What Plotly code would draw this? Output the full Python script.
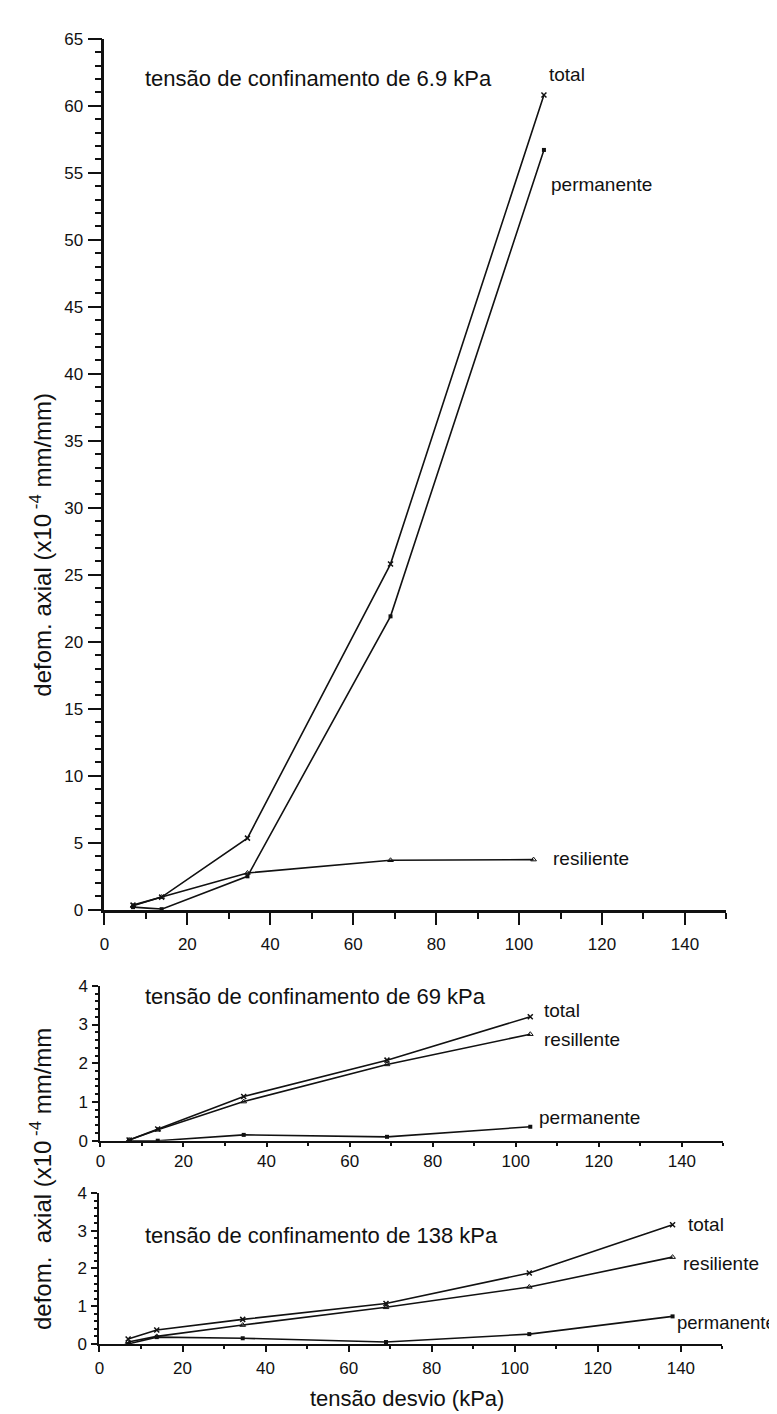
import plotly.graph_objects as go

W, H = 777, 1414

# ---------------- data ----------------
# confining stress 6.9 kPa
x_top_total = [6.9, 13.8, 34.5, 69, 106]
y_top_total = [0.35, 0.95, 5.35, 25.8, 60.8]
x_top_perm = [6.9, 13.8, 34.5, 69, 106]
y_top_perm = [0.2, 0.05, 2.5, 21.9, 56.7]
x_top_res = [6.9, 13.8, 34.5, 69, 103.5]
y_top_res = [0.3, 0.95, 2.75, 3.7, 3.75]

# confining stress 69 kPa
x_mid = [6.9, 13.8, 34.5, 69, 103.5]
y_mid_total = [0.02, 0.3, 1.14, 2.08, 3.2]
y_mid_res = [0.02, 0.28, 1.01, 1.97, 2.75]
y_mid_perm = [0.0, 0.0, 0.15, 0.1, 0.36]

# confining stress 138 kPa
x_bot = [6.9, 13.8, 34.5, 69, 103.5, 138]
y_bot_total = [0.13, 0.37, 0.65, 1.07, 1.88, 3.16]
y_bot_res = [0.05, 0.2, 0.5, 0.97, 1.51, 2.3]
y_bot_perm = [0.0, 0.18, 0.15, 0.05, 0.26, 0.73]

x_ticks = [0, 20, 40, 60, 80, 100, 120, 140]
FONT = "Liberation Sans, Arial, sans-serif"
INK = "#111111"


def px(x):
    return x / W


def py(y):
    return 1 - y / H


fig = go.Figure()

line = dict(color=INK, width=1.6)
m_total = dict(symbol="x-thin-open", size=5, color=INK, line=dict(color=INK, width=1.5))
m_perm = dict(symbol="square", size=4, color=INK)
m_res = dict(symbol="triangle-up-open", size=5, color=INK, line=dict(color=INK, width=1))

series = [
    ("x", "y", x_top_total, y_top_total, m_total),
    ("x", "y", x_top_perm, y_top_perm, m_perm),
    ("x", "y", x_top_res, y_top_res, m_res),
    ("x2", "y2", x_mid, y_mid_total, m_total),
    ("x2", "y2", x_mid, y_mid_res, m_res),
    ("x2", "y2", x_mid, y_mid_perm, m_perm),
    ("x3", "y3", x_bot, y_bot_total, m_total),
    ("x3", "y3", x_bot, y_bot_res, m_res),
    ("x3", "y3", x_bot, y_bot_perm, m_perm),
]
for xa, ya, xs, ys, mk in series:
    fig.add_trace(go.Scatter(x=xs, y=ys, xaxis=xa, yaxis=ya, mode="lines+markers",
                             line=line, marker=mk, showlegend=False, cliponaxis=False))

TICKFONT = dict(family=FONT, size=17, color=INK)


def xaxis(dom, anchor, ticklen, standoff, lw):
    return dict(domain=dom, anchor=anchor, range=[0, 150], tickvals=x_ticks,
                ticks="outside", ticklen=ticklen, tickwidth=2, tickcolor=INK,
                showline=True, linecolor=INK, linewidth=lw, showgrid=False, zeroline=False,
                tickfont=TICKFONT, ticklabelstandoff=standoff,
                minor=dict(dtick=10, ticks="outside", ticklen=max(3, ticklen // 2),
                           tickwidth=2, tickcolor=INK, showgrid=False))


def yaxis(dom, anchor, rng, dtick, minor_dt, ticklen, lw):
    return dict(domain=dom, anchor=anchor, range=rng, dtick=dtick,
                ticks="outside", ticklen=ticklen, tickwidth=2, tickcolor=INK,
                showline=True, linecolor=INK, linewidth=lw, showgrid=False, zeroline=False,
                tickfont=TICKFONT, ticklabelstandoff=1,
                minor=dict(dtick=minor_dt, ticks="outside", ticklen=max(2, ticklen // 2),
                           tickwidth=2, tickcolor=INK, showgrid=False))


fig.update_layout(
    width=W, height=H,
    margin=dict(l=0, r=0, t=0, b=0),
    paper_bgcolor="white", plot_bgcolor="white",
    xaxis=xaxis([px(92), px(718)], "y", 12, 5, 2.5),
    yaxis=yaxis([py(905), py(22)], "x", [0, 65], 5, 1, 14, 2.5),
    xaxis2=xaxis([px(88), px(715)], "y2", 4, 0, 2),
    yaxis2=yaxis([py(1139), py(982)], "x2", [0, 4], 1, 0.2, 6, 2),
    xaxis3=xaxis([px(87), px(714)], "y3", 6, 2, 2),
    yaxis3=yaxis([py(1345), py(1192)], "x3", [0, 4], 1, 0.2, 6, 2),
)

annots = [
    # (text, x, y, size, xanchor, angle)
    ("tensão de confinamento de 6.9 kPa", 132, 62, 22, "left", 0),
    ("total", 538, 58, 19, "left", 0),
    ("permanente", 540, 170, 19, "left", 0),
    ("resiliente", 542, 853, 19, "left", 0),
    ("tensão de confinamento de 69 kPa", 132, 993, 22, "left", 0),
    ("total", 533, 1007, 19, "left", 0),
    ("resillente", 533, 1036, 19, "left", 0),
    ("permanente", 528, 1115, 19, "left", 0),
    ("tensão de confinamento de 138 kPa", 132, 1235, 22, "left", 0),
    ("total", 678, 1224, 19, "left", 0),
    ("resiliente", 673, 1263, 19, "left", 0),
    ("permanente", 667, 1323, 18.5, "left", 0),
    ("tensão desvio (kPa)", 397, 1400, 22, "center", 0),
    ("defom. axial (x10<sup> -4</sup> mm/mm)", 28, 535, 24, "center", -90),
    ("defom.  axial (x10<sup> -4</sup> mm/mm", 28, 1178, 24, "center", -90),
]
for text, x, y, size, xanc, ang in annots:
    fig.add_annotation(text=text, x=px(x), y=py(y), xref="paper", yref="paper",
                       showarrow=False, xanchor=xanc, yanchor="middle", textangle=ang,
                       borderpad=0, font=dict(family=FONT, size=size, color=INK))

fig.write_html("out.html")
